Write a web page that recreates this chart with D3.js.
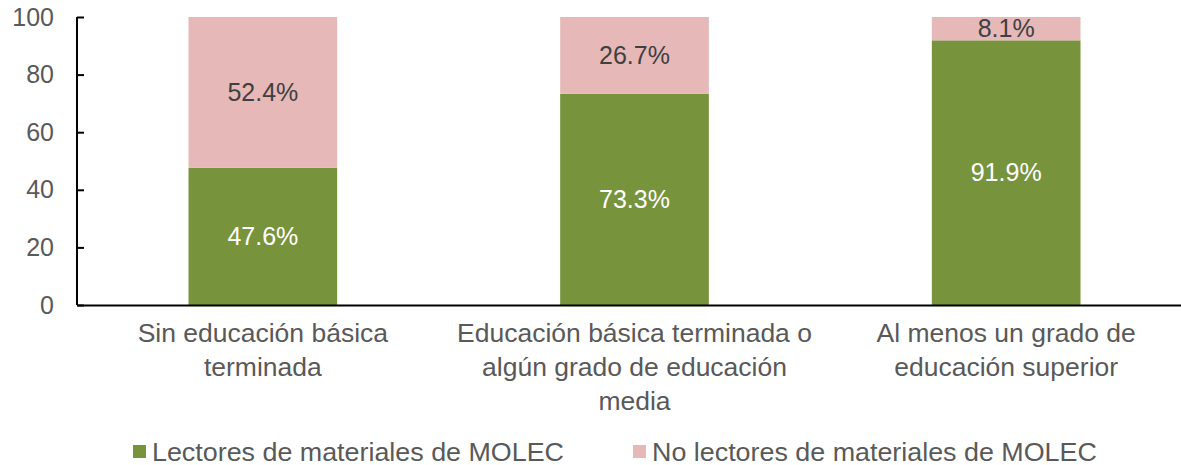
<!DOCTYPE html>
<html>
<head>
<meta charset="utf-8">
<script src="https://cdn.jsdelivr.net/npm/d3@7"></script>
<style>
  body { margin: 0; background: #fff; }
  svg { display: block; font-family: "Liberation Sans", Arial, sans-serif; }
</style>
</head>
<body>
<div id="chart"></div>
<script>
// categories (x axis), each split into lines as in the original
var categories = [
  ["Sin educación básica", "terminada"],
  ["Educación básica terminada o", "algún grado de educación", "media"],
  ["Al menos un grado de", "educación superior"]
];
var lectores = [47.6, 73.3, 91.9];
var noLectores = [52.4, 26.7, 8.1];
var seriesNames = ["Lectores de materiales de MOLEC", "No lectores de materiales de MOLEC"];
var yTicks = [0, 20, 40, 60, 80, 100];

var width = 1181, height = 465;
var margin = { top: 17, right: -11, bottom: 160, left: 77 };
var plotW = width - margin.left - margin.right;
var plotH = height - margin.top - margin.bottom;
var colors = ["#77933c", "#e6b9b8"];

var svg = d3.select("#chart").append("svg")
  .attr("width", width)
  .attr("height", height);
var g = svg.append("g")
  .attr("transform", "translate(" + margin.left + "," + margin.top + ")");

var keys = categories.map(function (d, i) { return i; });
var x = d3.scaleBand().domain(keys).range([0, plotW]).paddingInner(0.6).paddingOuter(0.3);
var y = d3.scaleLinear().domain([0, 100]).range([plotH, 0]);

var rows = keys.map(function (i) { return { idx: i, a: lectores[i], b: noLectores[i] }; });
var stacked = d3.stack().keys(["a", "b"])(rows);

// bars
g.selectAll(".layer")
  .data(stacked)
  .enter().append("g")
  .attr("class", "layer")
  .attr("fill", function (d, i) { return colors[i]; })
  .selectAll("rect")
  .data(function (d) { return d; })
  .enter().append("rect")
  .attr("x", function (d) { return x(d.data.idx); })
  .attr("y", function (d) { return y(d[1]); })
  .attr("width", x.bandwidth())
  .attr("height", function (d) { return y(d[0]) - y(d[1]); });

// data labels
stacked.forEach(function (layer, li) {
  g.selectAll(".lbl" + li)
    .data(layer)
    .enter().append("text")
    .attr("x", function (d) { return x(d.data.idx) + x.bandwidth() / 2; })
    .attr("y", function (d) { return y((d[0] + d[1]) / 2); })
    .attr("dy", "0.35em")
    .attr("text-anchor", "middle")
    .attr("font-size", 25)
    .attr("fill", li === 0 ? "#ffffff" : "#404040")
    .text(function (d) { return (d[1] - d[0]).toFixed(1) + "%"; });
});

// y axis
var yAxis = g.append("g")
  .call(d3.axisLeft(y).tickValues(yTicks).tickSize(-7).tickPadding(23));
yAxis.select(".domain").attr("stroke", "#000").attr("stroke-width", 2)
  .attr("d", "M0," + plotH + "V0");
yAxis.selectAll(".tick line").attr("stroke", "#000").attr("stroke-width", 2);
yAxis.selectAll(".tick text").attr("font-size", 25).attr("fill", "#595959")
  .attr("font-family", "Liberation Sans, Arial, sans-serif");

// x axis
var xAxis = g.append("g")
  .attr("transform", "translate(0," + plotH + ")")
  .call(d3.axisBottom(x).tickSize(0).tickFormat(""));
xAxis.select(".domain").attr("stroke", "#000").attr("stroke-width", 2);

xAxis.selectAll(".tick").each(function (i) {
  var t = d3.select(this).append("text")
    .attr("text-anchor", "middle")
    .attr("font-size", 25)
    .attr("transform", "scale(1.06,1)")
    .attr("fill", "#595959")
    .attr("font-family", "Liberation Sans, Arial, sans-serif");
  categories[i].forEach(function (line, j) {
    t.append("tspan").attr("x", 0).attr("y", 37 + j * 34).text(line);
  });
});

// legend
var legend = svg.append("g").attr("transform", "translate(0,452)");
var legX = [133, 633];
seriesNames.forEach(function (name, i) {
  legend.append("rect")
    .attr("x", legX[i]).attr("y", -7)
    .attr("width", 13).attr("height", 13)
    .attr("fill", colors[i]);
  legend.append("text")
    .attr("transform", "translate(" + (legX[i] + 19) + ",0) scale(1.075,1)")
    .attr("dy", "0.35em")
    .attr("font-size", 25)
    .attr("fill", "#595959")
    .text(name);
});
</script>
</body>
</html>
